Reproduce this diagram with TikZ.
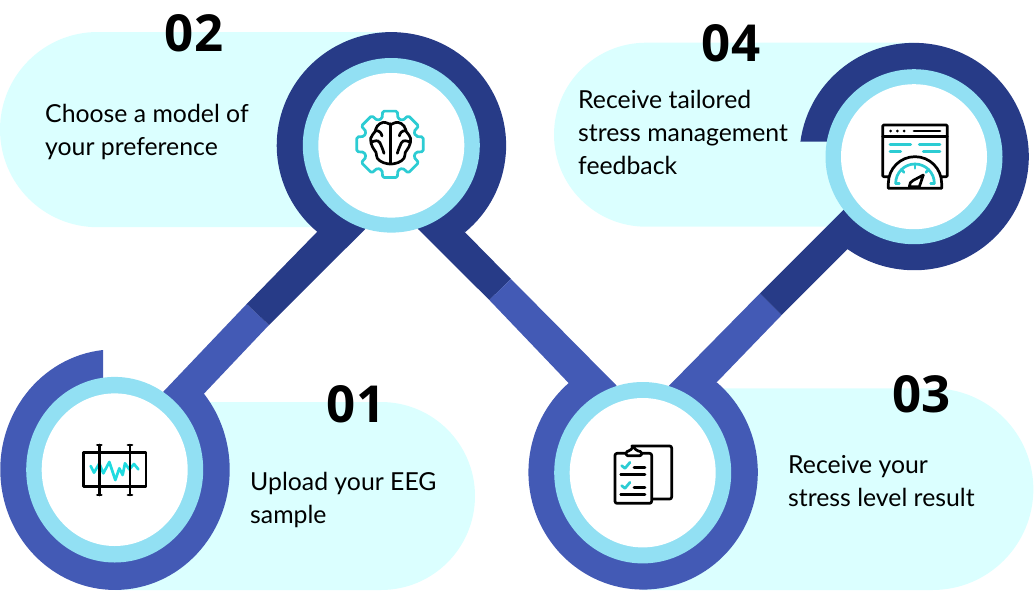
\documentclass[tikz,border=0pt]{standalone}
\usepackage{fontspec}
\setmainfont{Lato}
\newfontfamily\numfont{Open Sans}
\definecolor{pale}{HTML}{DBFFFF}
\definecolor{skyring}{HTML}{92E0F3}
\definecolor{bluering}{HTML}{435AB5}
\definecolor{darkring}{HTML}{273B87}
\definecolor{teal}{HTML}{2CCCD3}
\tikzset{
  steptext/.style={anchor=west,align=left,inner sep=0pt,font=\fontsize{24.8}{33}\selectfont},
  stepnum/.style={anchor=base,inner sep=0pt,font=\numfont\bfseries\fontsize{51}{51}\selectfont},
  ink/.style={draw=black,line width=2.7pt,line join=round,line cap=round},
  tealink/.style={draw=teal,line width=2.7pt,line join=round,line cap=round},
  zoomed/.style={x=0.3333pt,y=-0.3333pt},
}
\begin{document}
\begin{tikzpicture}[x=1pt,y=-1pt]
\useasboundingbox (0,0) rectangle (1034,590);
% pale bands behind the rings
\fill[pale] (115,402) -- (381,402) arc[start angle=-90,end angle=90,radius=94] -- (115,590) -- cycle;
\fill[pale] (391,32) -- (97.6,32) arc[start angle=-90,end angle=-270,radius=97.6] -- (391,227.2) -- cycle;
\fill[pale] (642,388.3) -- (932.5,388.3) arc[start angle=-90,end angle=90,radius=100.85] -- (642,590) -- cycle;
\fill[pale] (914,42.7) -- (646,42.7) arc[start angle=-90,end angle=-270,radius=92] -- (914,226.7) -- cycle;
% connecting bars
\fill[bluering] (163.3,391.7) -- (246.7,304) -- (269,325) -- (204.3,393.3) -- (170,440) -- cycle;
\fill[darkring] (246.7,304) -- (316.7,232.3) -- (340,190) -- (380,200) -- (365,229.3) -- (269,325) -- cycle;
\fill[darkring] (418.3,229.3) -- (489.3,300) -- (511,279) -- (465,232.3) -- (440,190) -- (400,200) -- cycle;
\fill[bluering] (489.3,300) -- (568.3,382.7) -- (600,430) -- (640,420) -- (616,385) -- (511,279) -- cycle;
\fill[bluering] (669,385.7) -- (760,293.3) -- (781.7,315) -- (716.7,382.3) -- (690,430) -- (650,420) -- cycle;
\fill[darkring] (760,293.3) -- (843.3,210) -- (880,190) -- (890,220) -- (847.3,249.3) -- (781.7,315) -- cycle;
% outer rings, each one open where its bars come in
\fill[bluering] (103,469.7) -- (103,350) arc[start angle=-96,end angle=-399.4,x radius=114.7,y radius=120.3] -- cycle;
\fill[darkring] (391.3,145.3) -- (465,232.3) arc[start angle=50.1,end angle=-229.8,x radius=114.7,y radius=113.3] -- cycle;
\fill[bluering] (642.7,472.7) -- (716.7,382.3) arc[start angle=-50.1,end angle=230.3,x radius=114.7,y radius=117.3] -- cycle;
\fill[darkring] (914,141.7) -- (800.4,141.7) arc[start angle=-172.5,end angle=126,x radius=114.7,y radius=113.7] -- cycle;
% inner rings
\foreach \cx/\cy/\ra/\rb in {114.7/469.7/92.8/76.3,391.3/145.3/87.3/72.3,642.7/472.7/90.7/74.7,914/156.7/87.5/72.5} {
  \fill[skyring] (\cx,\cy) ellipse[x radius=88.5,y radius=\ra];
  \fill[white] (\cx,\cy) ellipse[x radius=73,y radius=\rb];
}
% eeg icon
\begin{scope}[shift={(70,430)},zoomed]
\draw[tealink,draw=teal!70!cyan] (62,108) -- (72,128) -- (88,100) -- (100,130) -- (118,96) -- (136,150) -- (148,115) -- (158,135) -- (165,100) -- (178,118) -- (192,102) -- (205,118);
\draw[ink] (40,68) rectangle (228,170);
\foreach \x in {88,180} {
  \draw[ink] (\x,45) -- (\x,195);
  \draw[ink] (\x-6,45) -- (\x+6,45);
  \draw[ink] (\x-6,195) -- (\x+6,195);
}
\end{scope}
% brain and gear icon
\begin{scope}[shift={(390,144.3)}]
\draw[tealink,rounded corners=1.5pt] (-17:27) \foreach \a in {0,45,...,315} { -- ({\a-17}:27) -- ({\a-12.5}:34) -- ({\a+12.5}:34) -- ({\a+17}:27) } -- cycle;
\end{scope}
\begin{scope}[shift={(340,90)},zoomed]
\draw[ink] (152,101) -- (152,222);
\foreach \s in {1,-1} {
  \begin{scope}[shift={(152,0)},xscale=\s]
  \draw[ink] plot[smooth,tension=0.7] coordinates {(-2,103) (-22,97) (-40,108) (-47,125) (-60,145) (-55,170) (-44,187) (-40,205) (-22,218) (-2,222)};
  \draw[ink] plot[smooth,tension=0.8] coordinates {(-57,156) (-38,153) (-28,168) (-20,190)};
  \draw[ink] (-44,122) .. controls (-34,122) and (-28,128) .. (-26,138);
  \end{scope}
}
\end{scope}
% clipboard icon
\begin{scope}[shift={(600,435)},zoomed]
\draw[ink,rounded corners=2pt] (95,33) -- (215,33) -- (215,192) -- (158,192);
\draw[ink,rounded corners=2pt] (78,55) -- (45,55) -- (45,205) -- (155,205) -- (155,55) -- (125,55);
\draw[ink,fill=white,rounded corners=1.5pt] (78,62) -- (78,50) -- (90,47) -- (100,35) -- (110,47) -- (125,50) -- (125,62) -- cycle;
\draw[tealink] (65,92) -- (75,100) -- (90,82);
\draw[tealink] (65,152) -- (75,160) -- (90,142);
\foreach \y in {98,158} {
  \draw[ink] (102,\y) -- (135,\y);
  \draw[ink] (62,\y+20) -- (135,\y+20);
}
\end{scope}
% gauge icon
\begin{scope}[shift={(860,105)},zoomed]
\draw[ink,rounded corners=1pt] (85,215) -- (68,215) -- (68,60) -- (262,60) -- (262,215) -- (245,215);
\draw[ink] (68,95) -- (262,95);
\foreach \x in {92,112,132} {
  \fill (\x,78) circle[radius=4.5];
}
\draw[ink] (162,78) -- (240,78);
\draw[tealink] (90,118) -- (152,118);
\draw[tealink] (178,118) -- (240,118);
\draw[tealink] (90,140) -- (122,140);
\draw[tealink] (190,140) -- (240,140);
\draw[ink,fill=white] (85,250) -- (85,235) arc[start angle=180,end angle=360,radius=80] -- (245,250) -- cycle;
\draw[tealink] (107,235) arc[start angle=180,end angle=360,radius=58];
\draw[tealink] (107,235) -- (118,235);
\draw[tealink] (223,235) -- (212,235);
\draw[tealink] (165,177) -- (165,190);
\draw[tealink] (124,194) -- (132,202);
\draw[tealink] (206,194) -- (198,202);
\draw[ink,fill=white] (190,210) -- (178,245) -- (148,245) .. controls (148,235) and (152,230) .. (160,226) -- cycle;
\end{scope}
% labels
\node[steptext] (upload) at (250,500) {Upload your EEG\\sample};
\node[steptext] (choose) at (45,132) {Choose a model of\\your preference};
\node[steptext] (result) at (788,481) {Receive your\\stress level result};
\node[steptext] (feedback) at (578,132) {Receive tailored\\stress management\\feedback};
\node[stepnum] (num01) at (356,422) {01};
\node[stepnum] (num02) at (194,51) {02};
\node[stepnum] (num03) at (921.5,412) {03};
\node[stepnum] (num04) at (731,61) {04};
\end{tikzpicture}
\end{document}
